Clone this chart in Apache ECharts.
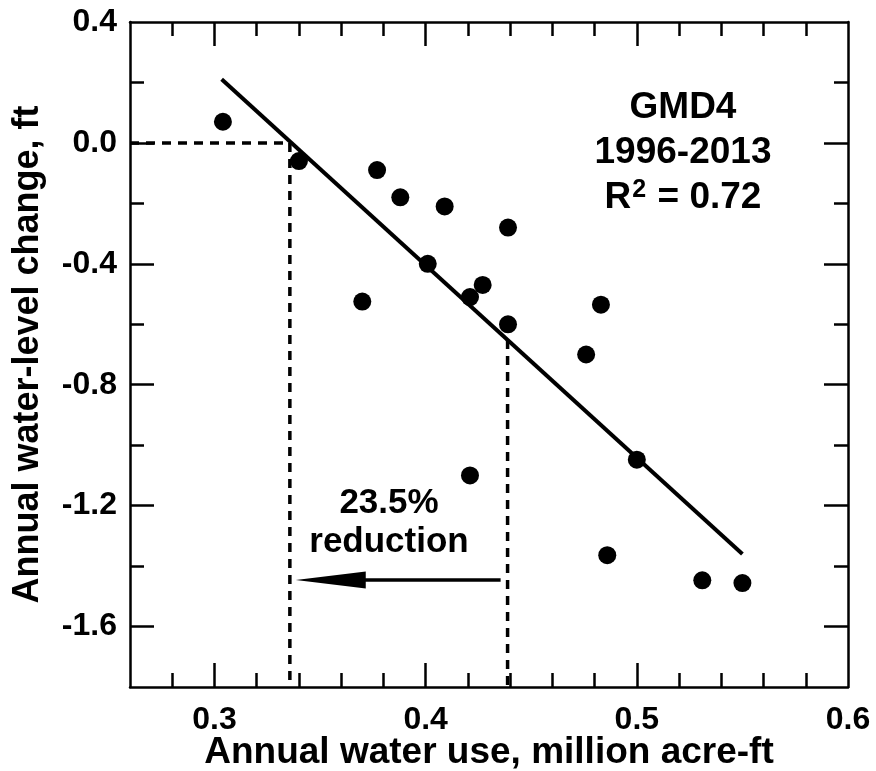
<!DOCTYPE html>
<html>
<head>
<meta charset="utf-8">
<script src="https://cdn.jsdelivr.net/npm/echarts@6/dist/echarts.min.js"></script>
<style>
html,body{margin:0;padding:0;background:#fff;}
#c{width:876px;height:771px;}
</style>
</head>
<body>
<div id="c"></div>
<script>
// ---- data ----
const waterUse = [0.304, 0.340, 0.377, 0.388, 0.409, 0.439, 0.401, 0.370, 0.421, 0.427, 0.439, 0.483, 0.476, 0.500, 0.421, 0.486, 0.531, 0.550];
const levelChange = [0.07, -0.06, -0.09, -0.18, -0.21, -0.28, -0.40, -0.525, -0.51, -0.47, -0.60, -0.535, -0.70, -1.048, -1.10, -1.364, -1.447, -1.456];
const fitX = [0.3034, 0.550];
const fitY = [0.2106, -1.360];
const zeroUse = 0.3357;      // water use where the fit crosses 0
const currentUse = 0.4388;   // current water use
const currentLevel = -0.652; // fit value at current use
const arrowY = -1.446;
const arrowFrom = 0.4355, arrowTo = 0.3385;

const xMajorTicks = [0.3, 0.4, 0.5];
const xMinorTicks = [0.28, 0.32, 0.34, 0.36, 0.38, 0.42, 0.44, 0.46, 0.48, 0.52, 0.54, 0.56, 0.58];
const xTickLabels = [0.3, 0.4, 0.5, 0.6];
const yMajorTicks = [0.0, -0.4, -0.8, -1.2, -1.6];
const yMinorTicks = [0.2, -0.2, -0.6, -1.0, -1.4];
const yTickLabels = [0.4, 0.0, -0.4, -0.8, -1.2, -1.6];

const xTitle = 'Annual water use, million acre-ft';
const yTitle = 'Annual water-level change, ft';
const boxLines = ['GMD4', '1996-2013'];
const reductionText = ['23.5%', 'reduction'];

// ---- chart ----
const FONT = '"Liberation Sans", Arial, Helvetica, sans-serif';
const chart = echarts.init(document.getElementById('c'), null, {renderer: 'canvas'});
const points = waterUse.map((x, i) => [x, levelChange[i]]);
const fitLine = fitX.map((x, i) => [x, fitY[i]]);

function xAxisDef(pos, ticks, len, labels, showLine, extra) {
  return Object.assign({
    type: 'value', position: pos, min: 0.26, max: 0.6,
    axisLine: {show: showLine, onZero: false, lineStyle: {color: '#000', width: 2.5}},
    axisTick: {show: true, inside: true, length: len, customValues: ticks, lineStyle: {color: '#000', width: 2.5}},
    axisLabel: labels ? {show: true, customValues: labels, margin: 17, color: '#000', fontSize: 32, fontWeight: 'bold', fontFamily: FONT, formatter: v => v.toFixed(1)} : {show: false},
    splitLine: {show: false}
  }, extra || {});
}
function yAxisDef(pos, ticks, len, labels, showLine, extra) {
  return Object.assign({
    type: 'value', position: pos, min: -1.8, max: 0.4,
    axisLine: {show: showLine, onZero: false, lineStyle: {color: '#000', width: 2.5}},
    axisTick: {show: true, inside: true, length: len, customValues: ticks, lineStyle: {color: '#000', width: 2.5}},
    axisLabel: labels ? {show: true, customValues: labels, margin: 13, color: '#000', fontSize: 32, fontWeight: 'bold', fontFamily: FONT, formatter: v => v.toFixed(1)} : {show: false},
    splitLine: {show: false}
  }, extra || {});
}

const option = {
  backgroundColor: '#fff',
  animation: false,
  grid: {left: 130, right: 28, top: 22, bottom: 84, containLabel: false, outerBoundsMode: 'none'},
  xAxis: [
    xAxisDef('bottom', xMajorTicks, 24, xTickLabels, true, {
      name: xTitle, nameLocation: 'middle', nameGap: 47, nameMoveOverlap: false,
      nameTextStyle: {color: '#000', fontSize: 37, fontWeight: 'bold', fontFamily: FONT}
    }),
    xAxisDef('bottom', xMinorTicks, 14, null, false),
    xAxisDef('top', xMajorTicks, 24, null, true),
    xAxisDef('top', xMinorTicks, 14, null, false)
  ],
  yAxis: [
    yAxisDef('left', yMajorTicks, 24, yTickLabels, true, {
      name: yTitle, nameLocation: 'middle', nameGap: 84,
      nameTextStyle: {color: '#000', fontSize: 36, fontWeight: 'bold', fontFamily: FONT}
    }),
    yAxisDef('left', yMinorTicks, 14, null, false),
    yAxisDef('right', yMajorTicks, 24, null, true),
    yAxisDef('right', yMinorTicks, 14, null, false)
  ],
  series: [
    {
      type: 'line', data: [[0.26, 0], [zeroUse, 0], [zeroUse, -1.8]],
      symbol: 'none', silent: true, z: 1,
      lineStyle: {color: '#000', width: 3.5, type: [9, 7]}
    },
    {
      type: 'line', data: [[currentUse, currentLevel], [currentUse, -1.8]],
      symbol: 'none', silent: true, z: 1,
      lineStyle: {color: '#000', width: 3.5, type: [9, 7]}
    },
    {
      type: 'line', data: fitLine, symbol: 'none', silent: true, z: 2,
      lineStyle: {color: '#000', width: 4}
    },
    {
      type: 'scatter', data: points, symbol: 'circle', symbolSize: 18, z: 3,
      itemStyle: {color: '#000', opacity: 1}
    },
    {
      type: 'custom', z: 3, silent: true,
      data: [[arrowFrom, arrowTo, arrowY]],
      renderItem: function (params, api) {
        const p0 = api.coord([api.value(0), api.value(2)]);
        const p1 = api.coord([api.value(1), api.value(2)]);
        const headLen = 70, half = 8.5;
        return {
          type: 'group',
          children: [
            {type: 'line', shape: {x1: p0[0], y1: p0[1], x2: p1[0] + headLen - 2, y2: p1[1]}, style: {stroke: '#000', lineWidth: 3.5}},
            {type: 'polygon', shape: {points: [[p1[0], p1[1]], [p1[0] + headLen, p1[1] - half], [p1[0] + headLen, p1[1] + half]]}, style: {fill: '#000'}}
          ]
        };
      }
    }
  ],
  graphic: [
    {type: 'text', x: 683, y: 108, style: {text: boxLines[0], fill: '#000', font: 'bold 37px ' + FONT, textAlign: 'center', textVerticalAlign: 'middle'}},
    {type: 'text', x: 683, y: 153, style: {text: boxLines[1], fill: '#000', font: 'bold 37px ' + FONT, textAlign: 'center', textVerticalAlign: 'middle'}},
    {type: 'text', x: 683, y: 198, style: {
      text: 'R{s|2} = 0.72', fill: '#000', font: 'bold 37px ' + FONT, textAlign: 'center', textVerticalAlign: 'middle',
      rich: {s: {fontSize: 25, fontWeight: 'bold', fontFamily: FONT, fill: '#000', padding: [0, 1, 16, 1]}}
    }},
    {type: 'text', x: 389, y: 503, style: {text: reductionText[0], fill: '#000', font: 'bold 35px ' + FONT, textAlign: 'center', textVerticalAlign: 'middle'}},
    {type: 'text', x: 389, y: 542, style: {text: reductionText[1], fill: '#000', font: 'bold 35px ' + FONT, textAlign: 'center', textVerticalAlign: 'middle'}}
  ]
};
chart.setOption(option);
</script>
</body>
</html>
